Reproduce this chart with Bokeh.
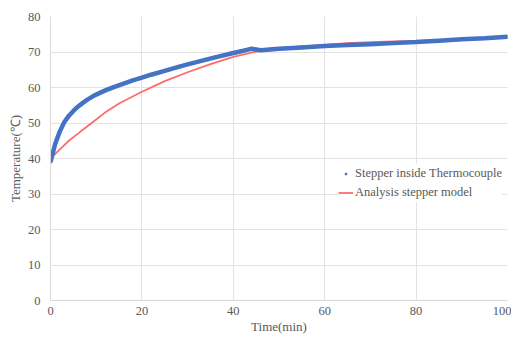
from bokeh.plotting import figure
from bokeh.models import Legend, LegendItem, FixedTicker
from bokeh.embed import file_html
from bokeh.resources import INLINE

# Measured series: Stepper inside Thermocouple
blue_t = [0, 1, 2, 3, 4, 5, 6, 7, 8, 9, 10, 12, 14, 16, 18, 20, 22, 25, 28, 30,
          33, 36, 40, 42, 43, 44, 45, 46, 48, 50, 55, 60, 65, 70, 75, 80, 85, 90, 95, 100]
blue_v = [39.0, 44.0, 47.5, 50.2, 52.0, 53.4, 54.6, 55.6, 56.5, 57.3, 58.0, 59.2, 60.2, 61.1,
          62.0, 62.8, 63.6, 64.7, 65.8, 66.5, 67.5, 68.5, 69.7, 70.3, 70.6, 70.9, 70.7, 70.5,
          70.7, 70.9, 71.3, 71.7, 72.0, 72.2, 72.5, 72.8, 73.2, 73.6, 73.9, 74.3]

# Analysis stepper model
red_t = [0, 2, 4, 6, 8, 10, 12, 15, 20, 25, 30, 35, 40, 45, 50, 55, 60, 65, 70, 75,
         80, 85, 90, 95, 100]
red_v = [40.0, 42.5, 45.0, 47.0, 49.0, 51.0, 53.0, 55.5, 58.8, 61.8, 64.3, 66.6, 68.6,
         70.1, 71.0, 71.6, 72.0, 72.5, 72.8, 73.0, 73.1, 73.3, 73.6, 73.9, 74.2]

x_ticks = [0, 20, 40, 60, 80, 100]
y_ticks = [0, 10, 20, 30, 40, 50, 60, 70, 80]

FONT = "Liberation Serif"
GRID = "#e3e3e3"
TXT = "#595959"

p = figure(width=511, height=337, output_backend="svg", toolbar_location=None,
           x_range=(0, 100), y_range=(0, 80),
           min_border_left=50, min_border_right=4, min_border_top=16, min_border_bottom=37)
p.outline_line_color = None
p.background_fill_color = "white"

red_r = p.line(red_t, red_v, line_color="#ff6b6b", line_width=1.8)
blue_line = p.line(blue_t, blue_v, line_color="#4472c4", line_width=4.5)
blue_pts = p.scatter(blue_t, blue_v, size=2.5, color="#4472c4")

for ax in (p.xaxis[0], p.yaxis[0]):
    ax.axis_line_color = "#d9d9d9"
    ax.major_tick_line_color = None
    ax.minor_tick_line_color = None
    ax.major_tick_out = 0
    ax.major_tick_in = 0
    ax.minor_tick_out = 0
    ax.minor_tick_in = 0
    ax.major_label_text_font = FONT
    ax.major_label_text_font_size = "12.5px"
    ax.major_label_text_color = TXT
    ax.axis_label_text_font = FONT
    ax.axis_label_text_font_size = "13px"
    ax.axis_label_text_font_style = "normal"
    ax.axis_label_text_color = TXT

p.xaxis[0].ticker = FixedTicker(ticks=x_ticks)
p.yaxis[0].ticker = FixedTicker(ticks=y_ticks)
p.xaxis[0].axis_label = "Time(min)"
p.yaxis[0].axis_label = "Temperature(\u2103)"
p.xaxis[0].major_label_standoff = 6
p.yaxis[0].major_label_standoff = 10
p.xaxis[0].axis_label_standoff = 1
p.yaxis[0].axis_label_standoff = 2

p.xgrid[0].ticker = FixedTicker(ticks=x_ticks)
p.ygrid[0].ticker = FixedTicker(ticks=y_ticks)
p.xgrid.grid_line_color = GRID
p.ygrid.grid_line_color = GRID

legend = Legend(items=[LegendItem(label="Stepper inside Thermocouple", renderers=[blue_pts]),
                       LegendItem(label="Analysis stepper model", renderers=[red_r])],
                location=(288, 98))
legend.label_text_font = FONT
legend.label_text_font_size = "12.5px"
legend.label_text_color = TXT
legend.border_line_color = None
legend.background_fill_color = "white"
legend.background_fill_alpha = 1.0
legend.glyph_width = 15
legend.glyph_height = 5
legend.label_height = 19
legend.label_standoff = 2
legend.padding = 0
legend.margin = 0
legend.spacing = 0
p.add_layout(legend, "center")

open("out.html", "w").write(file_html(p, INLINE))
